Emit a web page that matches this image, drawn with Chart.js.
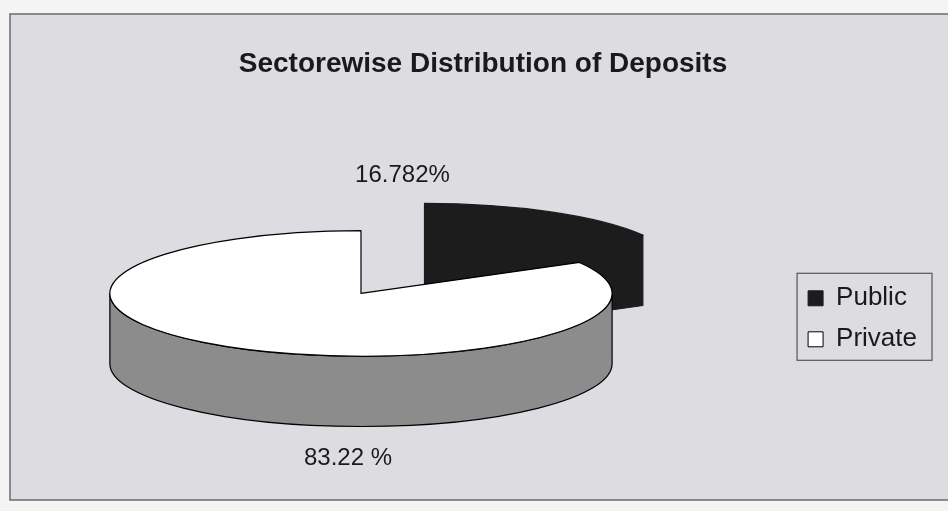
<!DOCTYPE html>
<html>
<head>
<meta charset="utf-8">
<title>Sectorewise Distribution of Deposits</title>
<script src="https://cdn.jsdelivr.net/npm/chart.js@4.4.1/dist/chart.umd.min.js"></script>
<style>
  html, body { margin: 0; padding: 0; background: #f4f4f4; }
  #wrap { width: 948px; height: 511px; position: relative; }
</style>
</head>
<body>
<div id="wrap"><canvas id="depositChart"></canvas></div>
<script>
// chart data
const sectors = ["Public", "Private"];
const shares = [16.782, 83.22];
const shareLabels = ["16.782%", "83.22 %"];

const topColors = ["#1c1c1c", "#ffffff"];
const sideColors = ["#1c1c1c", "#8c8c8c"];
const edgeColors = ["#1c1c1c", "#000000"];
const textColor = "#1a1a1a";

// scanned page look: light margin, grey plot sheet with a thin frame
const sheetBackground = {
  id: "sheetBackground",
  beforeDraw(chart) {
    const ctx = chart.ctx;
    ctx.save();
    ctx.fillStyle = "#f4f4f4";
    ctx.fillRect(0, 0, chart.width, chart.height);
    ctx.fillStyle = "#dddce0";
    ctx.fillRect(10, 14, chart.width - 10, 486);
    ctx.strokeStyle = "#6a6a70";
    ctx.lineWidth = 1.5;
    ctx.beginPath();
    ctx.moveTo(chart.width, 14);
    ctx.lineTo(10, 14);
    ctx.lineTo(10, 500);
    ctx.lineTo(chart.width, 500);
    ctx.stroke();
    ctx.restore();
  }
};

// draws the pie as a tilted disc using the angles computed by chart.js
const tiltedPie = {
  id: "tiltedPie",
  beforeDatasetsDraw(chart) {
    const ctx = chart.ctx;
    const area = chart.chartArea;
    const arcs = chart.getDatasetMeta(0).data;
    const rx = area.width * 0.333;
    const ry = rx * 0.25;
    const depth = rx * 0.28;
    const cx = area.left + area.width * 0.427;
    const cy = area.top + area.height * 0.434;

    const slices = arcs.map((arc, i) => {
      const a0 = arc.startAngle;
      const a1 = arc.endAngle;
      const mid = (a0 + a1) / 2;
      const frac = (arc.options.offset || 0) / arc.outerRadius;
      return {
        i, a0, a1, mid,
        edge: arc.options.borderColor,
        x: cx + Math.cos(mid) * frac * rx,
        y: cy + Math.sin(mid) * frac * ry
      };
    });

    function drawSlice(s) {
      const { x, y, a0, a1 } = s;
      ctx.strokeStyle = s.edge;
      ctx.lineWidth = 1.2;
      ctx.lineJoin = "round";
      ctx.fillStyle = sideColors[s.i];

      // cut faces that turn towards the viewer
      [[a0, -Math.cos(a0)], [a1, Math.cos(a1)]].forEach(([a, ny]) => {
        if (ny <= 1e-6) return;
        const px = x + rx * Math.cos(a);
        const py = y + ry * Math.sin(a);
        ctx.beginPath();
        ctx.moveTo(x, y);
        ctx.lineTo(px, py);
        ctx.lineTo(px, py + depth);
        ctx.lineTo(x, y + depth);
        ctx.closePath();
        ctx.fill();
        ctx.stroke();
      });

      // outer wall, front half only
      for (let k = -1; k <= 1; k++) {
        const lo = Math.max(a0, 2 * Math.PI * k);
        const hi = Math.min(a1, Math.PI + 2 * Math.PI * k);
        if (hi <= lo) continue;
        ctx.beginPath();
        ctx.ellipse(x, y, rx, ry, 0, lo, hi);
        ctx.ellipse(x, y + depth, rx, ry, 0, hi, lo, true);
        ctx.closePath();
        ctx.fill();
        ctx.stroke();
      }

      // top face
      ctx.fillStyle = topColors[s.i];
      ctx.beginPath();
      ctx.moveTo(x, y);
      ctx.ellipse(x, y, rx, ry, 0, a0, a1);
      ctx.closePath();
      ctx.fill();
      ctx.stroke();
    }

    ctx.save();
    slices.slice().sort((p, q) => Math.sin(p.mid) - Math.sin(q.mid)).forEach(drawSlice);

    // value labels
    ctx.fillStyle = textColor;
    ctx.font = "24px 'Liberation Sans', Arial, sans-serif";
    ctx.textAlign = "center";
    ctx.textBaseline = "middle";
    slices.forEach((s) => {
      const lx = s.x - 17.5 - 0.036 * rx * Math.cos(s.mid);
      const ly = Math.sin(s.mid) < 0 ? s.y - ry - 28 : s.y + ry + depth + 32;
      ctx.fillText(shareLabels[s.i], lx, ly);
    });
    ctx.restore();
    return false;
  }
};

// frame around the legend
const legendFrame = {
  id: "legendFrame",
  afterDraw(chart) {
    const boxes = chart.legend && chart.legend.legendHitBoxes;
    if (!boxes || !boxes.length) return;
    const left = Math.min(...boxes.map((b) => b.left)) - 11;
    const right = Math.max(...boxes.map((b) => b.left + b.width)) + 15;
    const top = boxes[0].top - 12;
    const last = boxes[boxes.length - 1];
    const bottom = last.top + last.height + 8;
    const ctx = chart.ctx;
    ctx.save();
    ctx.strokeStyle = "#55555a";
    ctx.lineWidth = 1.2;
    ctx.strokeRect(left, top, right - left, bottom - top);
    ctx.restore();
  }
};

new Chart(document.getElementById("depositChart"), {
  type: "pie",
  data: {
    labels: sectors,
    datasets: [
      {
        data: shares,
        backgroundColor: topColors,
        borderColor: edgeColors,
        borderWidth: 1,
        offset: [77, 0]
      }
    ]
  },
  options: {
    responsive: true,
    maintainAspectRatio: false,
    animation: false,
    layout: { padding: { left: 39, right: 21, top: 0, bottom: 0 } },
    plugins: {
      title: {
        display: true,
        text: "Sectorewise Distribution of Deposits",
        color: textColor,
        font: { family: "'Liberation Sans', Arial, sans-serif", size: 28, weight: "bold" },
        padding: { top: 47, bottom: 46 }
      },
      legend: {
        position: "right",
        fullSize: false,
        labels: {
          color: textColor,
          font: { family: "'Liberation Sans', Arial, sans-serif", size: 26 },
          boxWidth: 15,
          boxHeight: 15,
          padding: 15
        }
      },
      tooltip: { enabled: false }
    }
  },
  plugins: [sheetBackground, tiltedPie, legendFrame]
});
</script>
</body>
</html>
